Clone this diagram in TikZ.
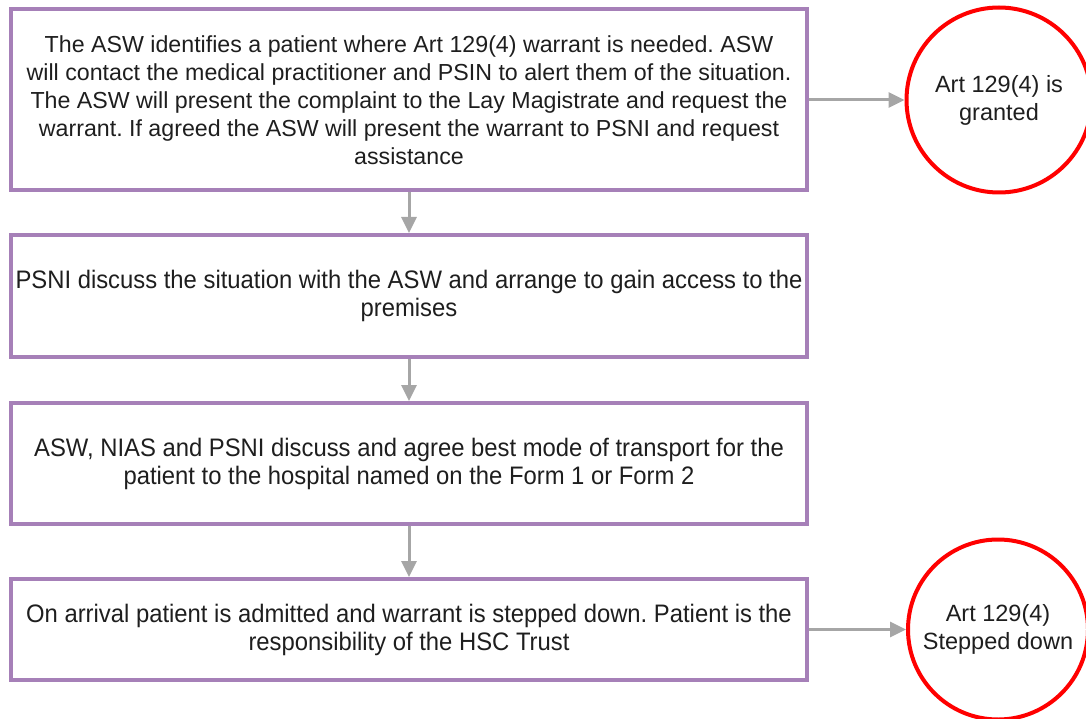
\documentclass[tikz,border=0pt]{standalone}
\usepackage{fontspec}
\setmainfont{Liberation Sans}
\newfontfamily\narrowsans[FakeStretch=0.942]{Liberation Sans}
\usetikzlibrary{arrows.meta}
\frenchspacing
\definecolor{boxpurple}{HTML}{A680B8}
\definecolor{ringred}{HTML}{FF0000}
\definecolor{linkgray}{HTML}{A6A6A6}
\definecolor{inkdark}{HTML}{1E1E1E}
\tikzset{
  stepbox/.style={draw=boxpurple, line width=4pt, rectangle, minimum width=796pt,
    inner sep=0pt, align=center, text=inkdark},
  wide/.style={font=\fontsize{23.2}{28}\selectfont},
  narrow/.style={font=\narrowsans\fontsize{25.3}{28}\selectfont},
  ring/.style={draw=ringred, line width=4pt, circle, inner sep=0pt, align=center,
    text=inkdark, font=\fontsize{23.5}{28}\selectfont},
  link/.style={draw=linkgray, line width=3pt,
    -{Triangle[length=16pt,width=15pt]}},
}
\begin{document}
\begin{tikzpicture}[x=1pt,y=-1pt]
\useasboundingbox (0,0) rectangle (1086,719);

\node[stepbox, wide, minimum height=181pt] (b1) at (409,100)
  {The ASW identifies a patient where Art 129(4) warrant is needed. ASW\\
   will contact the medical practitioner and PSIN to alert them of the situation.\\
   The ASW will present the complaint to the Lay Magistrate and request the\\
   warrant. If agreed the ASW will present the warrant to PSNI and request\\
   assistance};

\node[stepbox, narrow, minimum height=122pt] (b2) at (409,296)
  {PSNI discuss the situation with the ASW and arrange to gain access to the\\
   premises};

\node[stepbox, narrow, minimum height=121pt] (b3) at (409,463.5)
  {ASW, NIAS and PSNI discuss and agree best mode of transport for the\\
   patient to the hospital named on the Form 1 or Form 2};

\node[stepbox, narrow, minimum height=101pt] (b4) at (409,629.5)
  {On arrival patient is admitted and warrant is stepped down. Patient is the\\
   responsibility of the HSC Trust};

\node[ring, minimum size=185pt] (c1) at (999,100) {Art 129(4) is\\granted};
\node[ring, minimum size=180pt] (c2) at (998,629.5) {Art 129(4)\\Stepped down};

\draw[link] (b1) -- (b2);
\draw[link] (b2) -- (b3);
\draw[link] (b3) -- (b4);
\draw[link] (b1.east) -- (c1);
\draw[link] (b4.east) -- (c2);
\end{tikzpicture}
\end{document}
